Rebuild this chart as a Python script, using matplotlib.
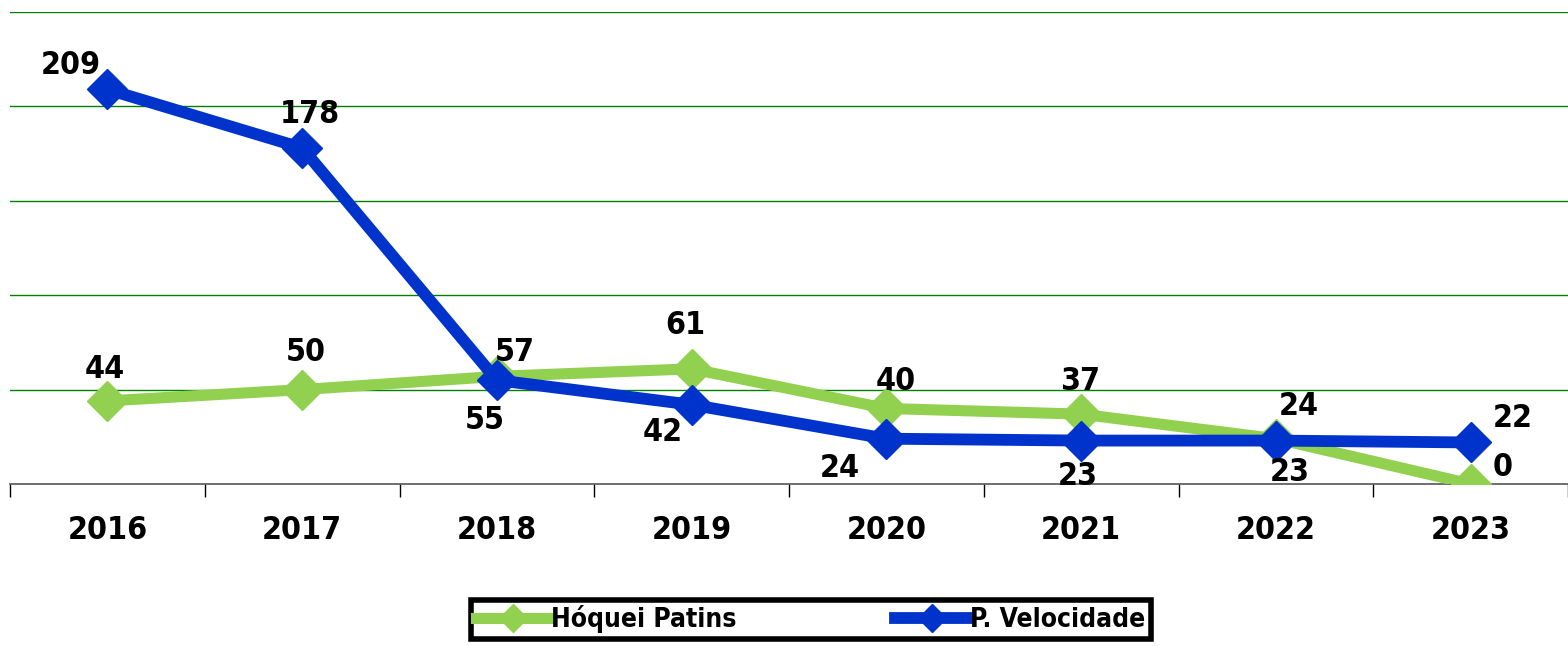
import numpy as np
import matplotlib.pyplot as plt

years = ['2016', '2017', '2018', '2019', '2020', '2021', '2022', '2023']
hoquei = [44, 50, 57, 61, 40, 37, 24, 0]
velocidade = [209, 178, 55, 42, 24, 23, 23, 22]

# label offsets in pixels (dx, dy) relative to each point
off_hoq = [(-3, 31), (4, 37), (18, 24), (-6, 43), (9, 27), (-1, 33), (23, 32), (32, 16)]
off_vel = [(-37, 24), (8, 33), (-12, -40), (-29, -28), (-47, -30), (-3, -36), (14, -32), (42, 24)]

green = '#92d050'
blue = '#0033cc'
fnt = dict(family='DejaVu Sans', fontstretch='condensed', fontweight='bold')

fig = plt.figure(figsize=(15.68, 6.46), dpi=100)
ax = fig.add_axes([10/1568, 1-484/646, 1558/1568, 472/646])

x = np.arange(len(years))
ax.plot(x, hoquei, color=green, lw=8, marker='D', ms=20, label='Hóquei Patins', zorder=3)
ax.plot(x, velocidade, color=blue, lw=8.5, marker='D', ms=20, label='P. Velocidade', zorder=4)

for i in range(len(years)):
    ax.annotate(str(hoquei[i]), (x[i], hoquei[i]), xytext=off_hoq[i], textcoords='offset pixels',
                ha='center', va='center', fontsize=23, **fnt, zorder=5)
    ax.annotate(str(velocidade[i]), (x[i], velocidade[i]), xytext=off_vel[i], textcoords='offset pixels',
                ha='center', va='center', fontsize=23, **fnt, zorder=5)

ax.set_xlim(-0.5, 7.5)
ax.set_ylim(0, 250)
ax.set_yticks([50, 100, 150, 200, 250])
ax.yaxis.grid(True, color='#008000', lw=1)
ax.set_axisbelow(True)
ax.tick_params(axis='y', left=False, labelleft=False)
ax.set_xticks(x)
ax.set_xticklabels(years, fontsize=23, **fnt)
ax.set_xticks(np.arange(-0.5, 8, 1), minor=True)
ax.tick_params(axis='x', which='major', length=0, pad=22)
ax.tick_params(axis='x', which='minor', length=9, width=1, color='black', direction='out')
for s in ['left', 'right', 'top']:
    ax.spines[s].set_visible(False)
ax.spines['bottom'].set_color('#555555')
ax.spines['bottom'].set_linewidth(1.2)

leg = fig.legend(loc='upper center', bbox_to_anchor=(811/1568, 1-600/646), ncol=2,
                 prop=dict(family='DejaVu Sans', stretch='condensed', weight='bold', size=19),
                 fancybox=False, edgecolor='black', framealpha=1, handlelength=2.8, columnspacing=6,
                 borderpad=0.2, borderaxespad=0, handletextpad=0.05, markerscale=0.7)
leg.get_frame().set_linewidth(4)

fig.savefig('out.png', dpi=100)
